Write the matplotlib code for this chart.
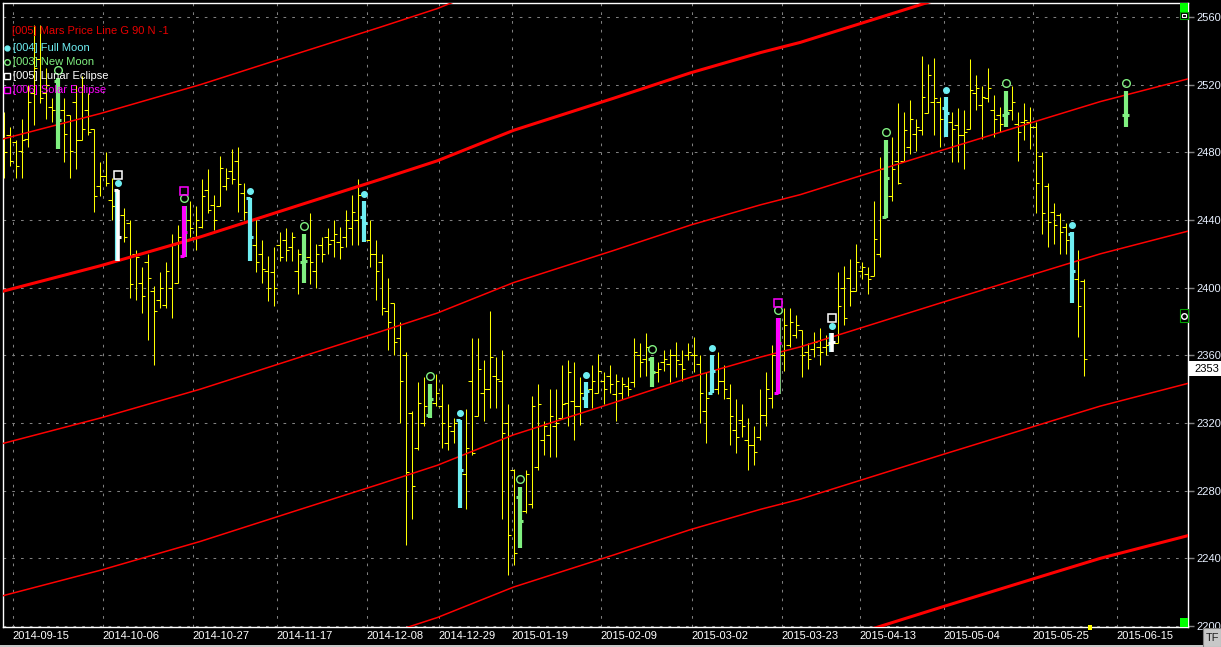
import matplotlib
matplotlib.use("Agg")
import matplotlib.pyplot as plt
from matplotlib.patches import Rectangle
from matplotlib.lines import Line2D

# ---------------- data ----------------
opens = [2502, 2490, 2486, 2481, 2488, 2515, 2535, 2515, 2507, 2522,
         2505, 2502, 2510, 2487, 2505, 2494, 2460, 2466, 2452, 2458,
         2443, 2438, 2420, 2403, 2415, 2398, 2393, 2390, 2400, 2403,
         2419, 2440, 2430, 2436, 2458, 2449, 2448, 2460, 2469, 2475,
         2456, 2453, 2425, 2420, 2410, 2409, 2425, 2428, 2424, 2410,
         2415, 2418, 2410, 2425, 2430, 2428, 2427, 2430, 2435, 2440,
         2442, 2428, 2420, 2415, 2386, 2391, 2370, 2360, 2326, 2305,
         2320, 2325, 2332, 2330, 2308, 2315, 2322, 2290, 2345, 2324,
         2338, 2340, 2348, 2345, 2320, 2292, 2276, 2268, 2272, 2294,
         2310, 2313, 2318, 2323, 2332, 2333, 2330, 2335, 2340, 2338,
         2345, 2348, 2337, 2338, 2342, 2344, 2360, 2358, 2358, 2350,
         2356, 2355, 2360, 2355, 2360, 2360, 2355, 2327, 2338, 2340,
         2345, 2335, 2316, 2322, 2310, 2307, 2312, 2325, 2335, 2338,
         2360, 2366, 2372, 2375, 2362, 2364, 2365, 2365, 2367, 2367,
         2400, 2406, 2398, 2410, 2408, 2407, 2420, 2442, 2454, 2475,
         2475, 2483, 2491, 2493, 2503, 2510, 2510, 2506, 2498, 2496,
         2490, 2494, 2515, 2508, 2512, 2505, 2502, 2502, 2505, 2497,
         2498, 2498, 2495, 2478, 2460, 2445, 2443, 2436, 2432, 2405,
         2404]
highs = [2504, 2495, 2487, 2500, 2520, 2555, 2555, 2530, 2512, 2524,
         2512, 2502, 2520, 2525, 2515, 2494, 2474, 2480, 2465, 2458,
         2447, 2440, 2422, 2412, 2420, 2401, 2409, 2415, 2432, 2437,
         2448, 2451, 2448, 2464, 2470, 2455, 2478, 2471, 2482, 2483,
         2462, 2453, 2441, 2428, 2419, 2424, 2433, 2435, 2433, 2423,
         2432, 2444, 2426, 2430, 2435, 2440, 2436, 2446, 2455, 2464,
         2451, 2440, 2428, 2420, 2406, 2391, 2380, 2362, 2327, 2344,
         2347, 2343, 2349, 2343, 2331, 2323, 2322, 2328, 2370, 2370,
         2357, 2386, 2359, 2363, 2331, 2293, 2282, 2292, 2336, 2343,
         2321, 2340, 2340, 2354, 2357, 2356, 2347, 2344, 2354, 2361,
         2350, 2354, 2349, 2347, 2347, 2370, 2367, 2373, 2359, 2356,
         2363, 2364, 2368, 2363, 2367, 2371, 2360, 2350, 2360, 2362,
         2354, 2343, 2334, 2331, 2323, 2318, 2340, 2350, 2366, 2382,
         2388, 2388, 2384, 2375, 2367, 2374, 2376, 2372, 2373, 2409,
         2413, 2417, 2426, 2415, 2412, 2451, 2477, 2487, 2489, 2509,
         2504, 2511, 2500, 2537, 2532, 2536, 2513, 2513, 2504, 2506,
         2505, 2535, 2526, 2519, 2530, 2514, 2507, 2516, 2519, 2504,
         2509, 2507, 2498, 2480, 2462, 2450, 2444, 2438, 2433, 2422,
         2405]
lows = [2465, 2472, 2465, 2465, 2483, 2496, 2509, 2500, 2498, 2482,
        2474, 2465, 2470, 2487, 2490, 2445, 2454, 2460, 2440, 2416,
        2427, 2394, 2393, 2385, 2369, 2354, 2388, 2388, 2382, 2403,
        2418, 2430, 2422, 2435, 2444, 2434, 2448, 2458, 2461, 2445,
        2440, 2416, 2409, 2403, 2392, 2389, 2416, 2416, 2416, 2396,
        2403, 2402, 2400, 2415, 2420, 2418, 2417, 2424, 2425, 2425,
        2427, 2412, 2393, 2384, 2363, 2360, 2320, 2248, 2263, 2304,
        2318, 2323, 2330, 2305, 2304, 2308, 2270, 2269, 2301, 2324,
        2321, 2329, 2329, 2263, 2230, 2236, 2246, 2267, 2270, 2292,
        2301, 2300, 2300, 2323, 2318, 2310, 2319, 2329, 2329, 2338,
        2331, 2338, 2321, 2334, 2336, 2341, 2347, 2348, 2341, 2344,
        2351, 2344, 2347, 2345, 2357, 2350, 2320, 2308, 2338, 2337,
        2334, 2307, 2302, 2312, 2292, 2295, 2310, 2318, 2329, 2337,
        2351, 2365, 2370, 2347, 2352, 2359, 2354, 2360, 2362, 2367,
        2378, 2389, 2398, 2405, 2396, 2407, 2418, 2441, 2451, 2461,
        2475, 2479, 2481, 2490, 2503, 2490, 2483, 2489, 2474, 2474,
        2470, 2494, 2505, 2488, 2510, 2489, 2492, 2495, 2499, 2475,
        2487, 2482, 2444, 2432, 2424, 2426, 2420, 2420, 2391, 2371,
        2348]
closes = [2480, 2475, 2472, 2487, 2510, 2530, 2512, 2520, 2505, 2499,
          2491, 2481, 2487, 2494, 2492, 2454, 2466, 2462, 2448, 2430,
          2430, 2402, 2418, 2395, 2406, 2386, 2400, 2410, 2425, 2430,
          2433, 2435, 2440, 2454, 2446, 2440, 2471, 2465, 2464, 2461,
          2445, 2430, 2415, 2411, 2400, 2400, 2418, 2422, 2430, 2420,
          2416, 2415, 2420, 2420, 2426, 2432, 2424, 2440, 2445, 2455,
          2438, 2420, 2410, 2388, 2380, 2368, 2345, 2291, 2283, 2332,
          2330, 2334, 2338, 2320, 2318, 2320, 2292, 2305, 2302, 2352,
          2340, 2359, 2346, 2314, 2254, 2243, 2262, 2290, 2330, 2331,
          2318, 2324, 2320, 2331, 2350, 2330, 2338, 2339, 2345, 2351,
          2340, 2343, 2345, 2343, 2340, 2362, 2356, 2365, 2350, 2352,
          2358, 2360, 2357, 2352, 2362, 2360, 2338, 2335, 2351, 2345,
          2340, 2324, 2312, 2318, 2307, 2303, 2325, 2340, 2360, 2367,
          2378, 2380, 2378, 2360, 2358, 2368, 2362, 2366, 2368, 2389,
          2382, 2398, 2415, 2412, 2405, 2429, 2470, 2465, 2470, 2462,
          2493, 2500, 2495, 2513, 2526, 2512, 2500, 2503, 2494, 2490,
          2492, 2517, 2518, 2513, 2518, 2500, 2497, 2503, 2510, 2492,
          2499, 2495, 2462, 2444, 2439, 2437, 2433, 2428, 2410, 2389,
          2358]

# projected new-moon bar beyond the last session
future_idx = [187]
future_open = [2502]
future_high = [2516]
future_low = [2495]
future_close = [2502]

full_moon = [19, 41, 60, 76, 97, 118, 138, 157, 178]
new_moon = [9, 30, 50, 71, 86, 108, 129, 147, 167, 187]
lunar_eclipse = [19, 138]
solar_eclipse = [30, 129]

# Mars price line (base harmonic) read at several bar positions
mars_idx = [0, 16.2, 32.8, 49.5, 62.8, 72.3, 85, 101.7, 114.5, 126.2,
            132.8, 156.2, 174.5, 182.8, 197.5]
mars_base = [2398, 2413, 2430, 2449, 2464, 2475, 2493, 2512, 2527, 2539,
             2545, 2571, 2591, 2600, 2613.5]
mars_offsets = [90, 0, -90, -180, -270, -360]

date_labels = ['2014-09-15', '2014-10-06', '2014-10-27', '2014-11-17',
               '2014-12-08', '2014-12-29', '2015-01-19', '2015-02-09',
               '2015-03-02', '2015-03-23', '2015-04-13', '2015-05-04',
               '2015-05-25', '2015-06-15']
date_pos = [1.5, 16.5, 31.5, 45.5, 60.5, 72.5, 84.67, 99.5, 114.67,
            129.67, 142.67, 156.67, 171.5, 185.5]
price_ticks = [2200, 2240, 2280, 2320, 2360, 2400, 2440, 2480, 2520, 2560]
last_price_label = '2353'

# ---------------- style ----------------
W, H = 1221, 647
FONT = 'Liberation Sans'
YELLOW = '#FFFF00'
CYAN = '#6EEEF2'
GREEN = '#80F080'
MAGENTA = '#FF00FF'
RED = '#FF0000'
GRID = '#808080'
PPU = 609 / 360.0  # pixels per price unit


def fx(x):
    return x / W


def fy(y):
    return 1 - y / H


fig = plt.figure(figsize=(W / 100, H / 100), dpi=100, facecolor='black')
ax = fig.add_axes([fx(3), fy(627), 1185 / W, 624 / H], facecolor='black')
ax.set_xlim(-1 / 12, 197.5 - 1 / 12)
ax.set_ylim(2199.41, 2568.28)

for s in ax.spines.values():
    s.set_color('white')
    s.set_linewidth(1.0)

# grid and ticks
ax.set_yticks(price_ticks)
ax.set_xticks(date_pos)
ax.set_xticklabels(date_labels, ha='left', fontfamily=FONT, fontsize=8, color='white')
ax.set_yticklabels([str(p) for p in price_ticks], fontfamily=FONT, fontsize=8,
                   color='#E8F0FF')
ax.yaxis.tick_right()
ax.tick_params(axis='x', length=0, pad=3)
ax.tick_params(axis='y', length=4, width=1, color=GRID, pad=2)
ax.grid(True, color=GRID, linewidth=0.75, linestyle=(0, (2.6, 5.8)), zorder=0)
ax.set_axisbelow(True)

# yellow OHLC bars
n = len(opens)
special = set(full_moon) | set(new_moon)
for i in range(n):
    if i in special:
        continue
    ax.vlines(i, lows[i], highs[i], color=YELLOW, lw=0.75, zorder=2)
    ax.hlines(opens[i], i - 0.55, i, color=YELLOW, lw=0.75, zorder=2)
    ax.hlines(closes[i], i, i + 0.55, color=YELLOW, lw=0.75, zorder=2)

# Mars price lines
for off in mars_offsets:
    thick = (off % 360 == 0)
    ax.plot(mars_idx, [b + off for b in mars_base], color=RED,
            lw=2.2 if thick else 1.1, zorder=3, solid_joinstyle='round')

# event bars
all_idx = list(range(n)) + future_idx
all_o = opens + future_open
all_h = highs + future_high
all_l = lows + future_low
all_c = closes + future_close
for k, i in enumerate(all_idx):
    if i not in special:
        continue
    o, h, l, c = all_o[k], all_h[k], all_l[k], all_c[k]
    if i in solar_eclipse:
        ax.vlines(i + 0.4, l, h, color=GREEN, lw=1.2, zorder=4)
        col = MAGENTA
    elif i in lunar_eclipse:
        ax.vlines(i - 0.15, l, h, color=CYAN, lw=3.0, zorder=4)
        col = 'white'
    elif i in full_moon:
        col = CYAN
    else:
        col = GREEN
    ax.vlines(i, l, h, color=col, lw=2.6 if col == 'white' else 3.0, zorder=5)
    ax.hlines(o, i - 0.6, i, color=col, lw=2.2, zorder=5)
    ax.hlines(c, i, i + 0.6, color=col, lw=2.2, zorder=5)
    if i in full_moon:
        ax.plot(i, h + 7 / PPU, 'o', color=CYAN, ms=4, mec=CYAN, zorder=6)
    if i in new_moon:
        ax.plot(i, h + 8 / PPU, 'o', mfc='none', mec=GREEN, ms=5.5, mew=1.0, zorder=6)
    if i in lunar_eclipse:
        ax.plot(i, h + 15 / PPU, 's', mfc='none', mec='white', ms=5.5, mew=1.1, zorder=6)
    if i in solar_eclipse:
        ax.plot(i, h + 15 / PPU, 's', mfc='none', mec=MAGENTA, ms=5.5, mew=1.1, zorder=6)

# ---------------- legend (top-left) ----------------
fig.text(fx(12), fy(31), '[005] Mars Price Line G 90 N -1', color='#E80000',
         fontfamily=FONT, fontsize=8, va='center', ha='left', zorder=10)
legend_items = [
    ('[004] Full Moon', CYAN, 48, 'o', True),
    ('[003] New Moon', GREEN, 62, 'o', False),
    ('[005] Lunar Eclipse', 'white', 76, 's', False),
    ('[006] Solar Eclipse', MAGENTA, 90, 's', False),
]
for label, col, yy, mk, filled in legend_items:
    fig.text(fx(13), fy(yy), label, color=col, fontfamily=FONT, fontsize=8,
             va='center', ha='left', zorder=10)
    fig.add_artist(Line2D([fx(6.5)], [fy(yy)], marker=mk, ms=3.5 if filled else 4,
                          mfc=col if filled else 'none', mec=col, mew=1.0,
                          linestyle='none', zorder=10))

# ---------------- widgets ----------------
def px_rect(x0, y0, x1, y1, **kw):
    fig.add_artist(Rectangle((fx(x0), fy(y1)), (x1 - x0) / W, (y1 - y0) / H,
                             transform=fig.transFigure, **kw))

# last price label
px_rect(1189, 361, 1221, 376, facecolor='white', edgecolor='none', zorder=10)
fig.text(fx(1194), fy(368.5), last_price_label, color='black', fontfamily=FONT,
         fontsize=8, va='center', ha='left', zorder=11)

# green corner markers
px_rect(1180, 3, 1188, 12, facecolor='#00FF00', edgecolor='none', zorder=10)
px_rect(1179.5, 12, 1187.5, 19, facecolor='black', edgecolor='#00A000', lw=0.8, zorder=10)
px_rect(1181.5, 14, 1185.5, 17, facecolor='black', edgecolor='white', lw=0.8, zorder=11)
px_rect(1180, 618, 1188, 627, facecolor='#00FF00', edgecolor='none', zorder=10)
px_rect(1088, 625, 1092, 630, facecolor='#FFFF00', edgecolor='none', zorder=10)
px_rect(1179.5, 309, 1187.5, 322, facecolor='black', edgecolor='#00A000', lw=0.8, zorder=10)
fig.add_artist(Line2D([fx(1183.5)], [fy(315.5)], marker='o', ms=4, mfc='black',
                      mec='white', mew=1.0, linestyle='none', zorder=11))

# TF button and bottom strip
px_rect(0, 645, 1221, 647, facecolor='#C8C8C8', edgecolor='none', zorder=9)
px_rect(1203, 628, 1221, 647, facecolor='#C8C8C8', edgecolor='#808080', lw=0.8, zorder=10)
fig.text(fx(1212), fy(638), 'TF', color='#202020', fontfamily=FONT, fontsize=8,
         va='center', ha='center', zorder=11)

fig.savefig('out.png', dpi=100, facecolor='black')
